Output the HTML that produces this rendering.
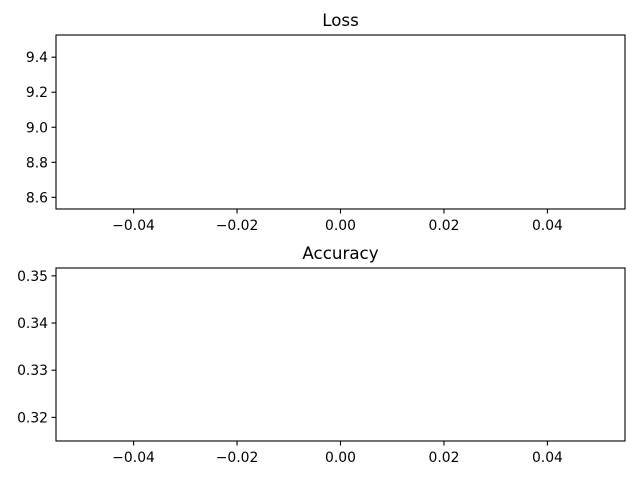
<!DOCTYPE html>
<html><head><meta charset="utf-8"><style>
body{margin:0;background:#fff}
svg{display:block;font-family:"DejaVu Sans","Liberation Sans",sans-serif}
</style></head><body>
<svg id="fig" width="640" height="480"></svg>
<script>
const epochs = [0];
const lossValues = [9.03];
const accValues = [0.33333];
const lossTicks = [8.6, 8.8, 9.0, 9.2, 9.4];
const lossTickLabels = ["8.6","8.8","9.0","9.2","9.4"];
const accTicks = [0.32, 0.33, 0.34, 0.35];
const accTickLabels = ["0.32","0.33","0.34","0.35"];
const xTicks = [-0.04, -0.02, 0, 0.02, 0.04];
const xTickLabels = ["\u22120.04","\u22120.02","0.00","0.02","0.04"];

const NS = "http://www.w3.org/2000/svg";
const svg = document.getElementById('fig');
function mk(tag, attrs, parent){const e=document.createElementNS(NS,tag);for(const k in attrs)e.setAttribute(k,attrs[k]);(parent||svg).appendChild(e);return e;}

function panel(name, title, top, bottom, ys, yTicks, yLabels){
  const L=56, R=625;
  const g = mk('g',{});
  
  
  const v = ys[0];
  const half = Math.abs(v)*0.05*1.1 || 0.055;
  const ymin=v-half, ymax=v+half;
  const xmin=-0.055, xmax=0.055;
  const sx = x => L + (x-xmin)/(xmax-xmin)*(R-L);
  const sy = y => bottom - (y-ymin)/(ymax-ymin)*(bottom-top);
  const pts = epochs.map((e,i)=>sx(e)+','+sy(ys[i]));
  const line = mk('polyline',{points:pts.join(' '),fill:'none',stroke:'#1f77b4','stroke-width':1.5},g);
  
  
  const fr = mk('rect',{x:L,y:top,width:R-L,height:bottom-top,fill:'none',stroke:'#000','stroke-width':1.1},g);
  
  
  const t = mk('text',{x:(L+R)/2,y:top-9,'text-anchor':'middle','font-size':'16.7px'},g);
  t.textContent = title;
  
  
  yTicks.forEach((yv,i)=>{
    const y=sy(yv);
    mk('line',{x1:L-4.5,x2:L,y1:y,y2:y,stroke:'#000','stroke-width':1.1},g);
    const tx = mk('text',{x:L-8,y:y+5,'text-anchor':'end','font-size':'13.9px'},g);
    tx.textContent = yLabels[i];
    
    
  });
  xTicks.forEach((xv,i)=>{
    const x=sx(xv);
    mk('line',{x1:x,x2:x,y1:bottom,y2:bottom+4.5,stroke:'#000','stroke-width':1.1},g);
    const tx = mk('text',{x:x,y:bottom+21,'text-anchor':'middle','font-size':'13.9px'},g);
    tx.textContent = xTickLabels[i];
    
    
  });
}
panel('loss','Loss',35,209,lossValues,lossTicks,lossTickLabels);
panel('accuracy','Accuracy',268,441,accValues,accTicks,accTickLabels);
</script>
</body></html>
